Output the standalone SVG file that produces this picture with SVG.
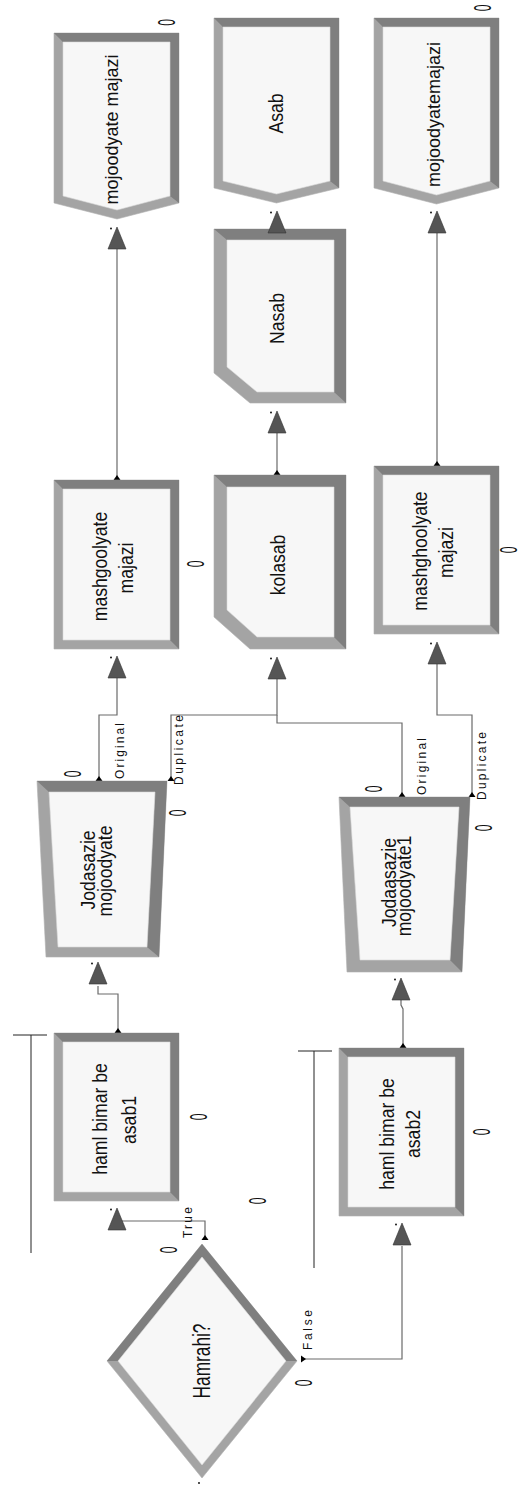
<svg xmlns="http://www.w3.org/2000/svg" width="521" height="1485" viewBox="0 0 521 1485">
<style>
.lt{fill:#a4a4a4;stroke:#b0b0b0;stroke-width:0.6}
.dk{fill:#7f7f7f}
.in{fill:#f7f7f7;stroke:#d8d8d8;stroke-width:0.6}
.t{font-family:"Liberation Sans",Arial,sans-serif;font-size:20px;fill:#111;text-anchor:middle}
.m{font-family:"Liberation Sans",Arial,sans-serif;font-size:18px;fill:#111;text-anchor:middle}
.s{font-family:"Liberation Sans",Arial,sans-serif;font-size:12px;fill:#111}
.z{font-family:"Liberation Sans",Arial,sans-serif;font-size:24px;fill:#111;text-anchor:middle}
.c{fill:none;stroke:#6a6a6a;stroke-width:1.2}
.q{fill:none;stroke:#222;stroke-width:1}
.ar{fill:#555;stroke:#333;stroke-width:0.6}
.ex{fill:#000}
</style>
<defs>
<g id="arrow"><polygon class="ar" points="0,0 -9,22 9,22"/><circle cx="-6" cy="1.5" r="0.9" fill="#000"/></g>
<polygon id="exit" class="ex" points="0,-5 -3.5,0 3.5,0"/>
</defs>
<rect width="521" height="1485" fill="#fff"/>

<g id="connectors">
<polyline class="c" points="117,249 117,480"/>
<polyline class="c" points="277,433 277,475"/>
<polyline class="c" points="437,233 437,466"/>
<polyline class="c" points="99,781 99,715 117,715 117,678"/>
<polyline class="c" points="171,781 171,715 277,715 277,679"/>
<polyline class="c" points="402,797 402,723 277,723 277,715"/>
<polyline class="c" points="472,797 472,715 437,715 437,663"/>
<polyline class="c" points="118,1033 118,994 98,994 98,986"/>
<polyline class="c" points="403,1048 403,1009 401,1005 401,1000"/>
<polyline class="c" points="205,1238 205,1221 117,1221 117,1230"/>
<polyline class="c" points="302,1359 402,1359 402,1246"/>
<use href="#exit" x="117" y="480"/>
<use href="#exit" x="277" y="475"/>
<use href="#exit" x="437" y="466"/>
<use href="#exit" x="118" y="1033"/>
<use href="#exit" x="403" y="1048"/>
<use href="#exit" x="99" y="781"/>
<use href="#exit" x="171" y="781"/>
<use href="#exit" x="402" y="797"/>
<use href="#exit" x="472" y="797"/>
<use href="#exit" x="205" y="1240"/>
<polygon class="ex" points="306,1359 301,1355.5 301,1362.5"/>
<text class="s" transform="translate(123.5,779) rotate(-90)" textLength="56" lengthAdjust="spacing">Original</text>
<text class="s" transform="translate(182.5,785) rotate(-90)" textLength="70" lengthAdjust="spacing">Duplicate</text>
<text class="s" transform="translate(425.5,795) rotate(-90)" textLength="57" lengthAdjust="spacing">Original</text>
<text class="s" transform="translate(485.5,800) rotate(-90)" textLength="68" lengthAdjust="spacing">Duplicate</text>
<text class="s" transform="translate(192,1238) rotate(-90)" textLength="31" lengthAdjust="spacing">True</text>
<text class="s" transform="translate(312,1350) rotate(-90)" textLength="40" lengthAdjust="spacing">False</text>
<line class="q" x1="13" y1="1035" x2="47" y2="1035"/>
<line class="q" x1="31" y1="1035" x2="31" y2="1253"/>
<line class="q" x1="298" y1="1051" x2="332" y2="1051"/>
<line class="q" x1="314" y1="1051" x2="314" y2="1268"/>
</g>

<g id="dispose1">
<polygon class="lt" points="54,33 179,33 179,203 117,219 54,203"/>
<polygon class="dk" points="54,33 179,33 179,203 170,196 170,42 63,42"/>
<polygon class="in" points="63,42 170,42 170,196 117,210 63,196"/>
<text class="m" transform="translate(118,129.5) rotate(-90)">mojoodyate majazi</text>
<text class="z" transform="translate(166,22.5) rotate(-90) scale(0.5,1)" y="8.6">0</text>
<use href="#arrow" x="117" y="227"/>
</g>

<g id="asab">
<polygon class="lt" points="214,18 339,18 339,188 276.5,203 214,188"/>
<polygon class="dk" points="214,18 339,18 339,188 330,181 330,27 223,27"/>
<polygon class="in" points="223,27 330,27 330,181 276.5,194 223,181"/>
<text class="t" transform="translate(283,113.5) rotate(-90) scale(0.88,1)">Asab</text>
</g>

<g id="dispose3">
<polygon class="lt" points="374,18 499,18 499,188 436.5,204 374,188"/>
<polygon class="dk" points="374,18 499,18 499,188 490,181 490,27 383,27"/>
<polygon class="in" points="383,27 490,27 490,181 436.5,195 383,181"/>
<text class="m" transform="translate(440,114.5) rotate(-90)">mojoodyatemajazi</text>
<text class="z" transform="translate(482,8) rotate(-90) scale(0.5,1)" y="8.6">0</text>
<use href="#arrow" x="437" y="211"/>
</g>

<g id="nasab">
<polygon class="lt" points="214,229 346,229 346,403 250,403 214,373"/>
<polygon class="dk" points="214,229 346,229 346,403 334,392 334,240 227,240"/>
<polygon class="in" points="227,240 334,240 334,392 257,392 227,367"/>
<text class="t" transform="translate(284,318.5) rotate(-90) scale(0.88,1)">Nasab</text>
<use href="#arrow" x="277" y="411"/>
</g>
<use href="#arrow" x="277" y="211"/>

<g id="mashgool1">
<polygon class="lt" points="54,480 179,480 179,649 54,649"/>
<polygon class="dk" points="54,480 179,480 179,649 170,640 170,489 63,489"/>
<polygon class="in" points="63,489 170,489 170,640 63,640"/>
<text class="t" transform="translate(107,566.5) rotate(-90) scale(0.88,1)">mashgoolyate</text>
<text class="t" transform="translate(133,568) rotate(-90) scale(0.88,1)">majazi</text>
<text class="z" transform="translate(195,564) rotate(-90) scale(0.5,1)" y="8.6">0</text>
<use href="#arrow" x="117" y="656"/>
</g>

<g id="kolasab">
<polygon class="lt" points="214,475 346,475 346,649 250,649 214,617"/>
<polygon class="dk" points="214,475 346,475 346,649 334,637 334,487 227,487"/>
<polygon class="in" points="227,487 334,487 334,637 257,637 227,610"/>
<text class="t" transform="translate(285,565) rotate(-90) scale(0.88,1)">kolasab</text>
<use href="#arrow" x="277" y="657"/>
</g>

<g id="mashghool3">
<polygon class="lt" points="374,466 499,466 499,634 374,634"/>
<polygon class="dk" points="374,466 499,466 499,634 490,625 490,475 383,475"/>
<polygon class="in" points="383,475 490,475 490,625 383,625"/>
<text class="t" transform="translate(427,551) rotate(-90) scale(0.88,1)">mashghoolyate</text>
<text class="t" transform="translate(453,552.5) rotate(-90) scale(0.88,1)">majazi</text>
<text class="z" transform="translate(508,550) rotate(-90) scale(0.5,1)" y="8.6">0</text>
<use href="#arrow" x="437" y="642"/>
</g>

<g id="joda1">
<polygon class="lt" points="37,781 167,781 159,957 46,957"/>
<polygon class="dk" points="37,781 167,781 159,957 147,947 155,792 49,792"/>
<polygon class="in" points="49,792 155,792 147,947 58,947"/>
<text class="t" transform="translate(95,870) rotate(-90) scale(0.88,1)">Jodasazie</text>
<text class="t" transform="translate(112,871) rotate(-90) scale(0.88,1)">mojoodyate</text>
<text class="z" transform="translate(72,774) rotate(-90) scale(0.5,1)" y="8.6">0</text>
<text class="z" transform="translate(177,813) rotate(-90) scale(0.5,1)" y="8.6">0</text>
<use href="#arrow" x="98" y="962"/>
</g>

<g id="joda3">
<polygon class="lt" points="339,797 470,797 462,972 347,972"/>
<polygon class="dk" points="339,797 470,797 462,972 450,960 459,807 350,807"/>
<polygon class="in" points="350,807 459,807 450,960 360,960"/>
<text class="t" transform="translate(396,882.5) rotate(-90) scale(0.88,1)">Jodaasazie</text>
<text class="t" transform="translate(411,886) rotate(-90) scale(0.88,1)">mojoodyate1</text>
<text class="z" transform="translate(373,789) rotate(-90) scale(0.5,1)" y="8.6">0</text>
<text class="z" transform="translate(483,828) rotate(-90) scale(0.5,1)" y="8.6">0</text>
<use href="#arrow" x="401" y="978"/>
</g>

<g id="haml1">
<polygon class="lt" points="54,1033 179,1033 179,1201 54,1201"/>
<polygon class="dk" points="54,1033 179,1033 179,1201 170,1192 170,1042 63,1042"/>
<polygon class="in" points="63,1042 170,1042 170,1192 63,1192"/>
<text class="t" transform="translate(107,1119) rotate(-90) scale(0.88,1)">haml bimar be</text>
<text class="t" transform="translate(136,1120) rotate(-90) scale(0.88,1)">asab1</text>
<text class="z" transform="translate(198,1117) rotate(-90) scale(0.5,1)" y="8.6">0</text>
<use href="#arrow" x="117" y="1208"/>
</g>

<g id="haml2">
<polygon class="lt" points="339,1048 464,1048 464,1216 339,1216"/>
<polygon class="dk" points="339,1048 464,1048 464,1216 455,1207 455,1057 348,1057"/>
<polygon class="in" points="348,1057 455,1057 455,1207 348,1207"/>
<text class="t" transform="translate(394,1134) rotate(-90) scale(0.88,1)">haml bimar be</text>
<text class="t" transform="translate(420,1134) rotate(-90) scale(0.88,1)">asab2</text>
<text class="z" transform="translate(481,1132) rotate(-90) scale(0.5,1)" y="8.6">0</text>
<use href="#arrow" x="402" y="1223"/>
</g>

<g id="hamrahi">
<polygon class="lt" points="202,1244 297,1361 202,1478 107,1361"/>
<polygon class="dk" points="107,1361 202,1244 297,1361 286,1361 202,1257 118,1361"/>
<polygon class="in" points="202,1257 286,1361 202,1465 118,1361"/>
<text class="t" transform="translate(210,1361) rotate(-90) scale(0.72,1)" style="font-size:24px">Hamrahi?</text>
<circle cx="199" cy="1483" r="0.9" fill="#000"/>
<text class="z" transform="translate(168,1250) rotate(-90) scale(0.5,1)" y="8.6">0</text>
<text class="z" transform="translate(257,1201) rotate(-90) scale(0.5,1)" y="8.6">0</text>
<text class="z" transform="translate(303,1383) rotate(-90) scale(0.5,1)" y="8.6">0</text>
</g>
</svg>
